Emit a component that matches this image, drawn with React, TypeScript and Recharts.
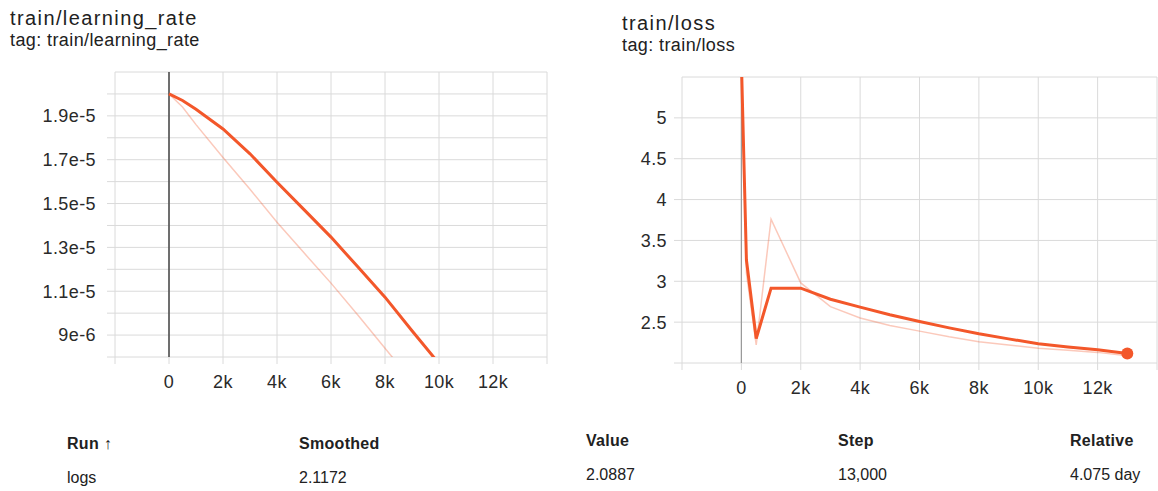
import React from 'react';
import {
  LineChart, Line, XAxis, YAxis, CartesianGrid, ReferenceLine, ReferenceDot,
} from 'recharts';

// x axis (shared by both panels)
const STEP_TICKS = [-2000, 0, 2000, 4000, 6000, 8000, 10000, 12000, 14000];
const STEP_LABELS = ['', '0', '2k', '4k', '6k', '8k', '10k', '12k', ''];

// train/learning_rate
const LR_STEPS = [0, 500, 1000, 2000, 3000, 4000, 5000, 6000, 7000, 8000, 9000, 10000, 11000, 12000, 13000];
const LR_RAW = [2.0e-5, 1.94e-5, 1.86e-5, 1.71e-5, 1.565e-5, 1.415e-5, 1.275e-5, 1.137e-5, 9.9e-6, 8.4e-6, 6.9e-6, 5.5e-6, 4.0e-6, 2.6e-6, 1.1e-6];
const LR_SMOOTHED = [2.0e-5, 1.97e-5, 1.93e-5, 1.84e-5, 1.727e-5, 1.597e-5, 1.472e-5, 1.347e-5, 1.21e-5, 1.073e-5, 9.2e-6, 7.7e-6, 6.3e-6, 4.9e-6, 3.5e-6];
const LR_Y_TICKS = [8e-6, 9e-6, 1.0e-5, 1.1e-5, 1.2e-5, 1.3e-5, 1.4e-5, 1.5e-5, 1.6e-5, 1.7e-5, 1.8e-5, 1.9e-5, 2.0e-5];
const LR_Y_LABELS = ['', '9e-6', '', '1.1e-5', '', '1.3e-5', '', '1.5e-5', '', '1.7e-5', '', '1.9e-5', ''];

// train/loss
const LOSS_STEPS = [0, 170, 500, 1000, 2000, 3000, 4000, 5000, 6000, 7000, 8000, 9000, 10000, 11000, 12000, 13000];
const LOSS_RAW = [5.7, 3.1, 2.22, 3.76, 2.98, 2.69, 2.55, 2.46, 2.39, 2.32, 2.26, 2.22, 2.18, 2.155, 2.13, 2.0887];
const LOSS_SMOOTHED = [5.7, 3.26, 2.3, 2.916, 2.916, 2.78, 2.684, 2.59, 2.508, 2.43, 2.358, 2.295, 2.236, 2.195, 2.162, 2.1172];
const LOSS_Y_TICKS = [2, 2.5, 3, 3.5, 4, 4.5, 5];
const LOSS_Y_LABELS = ['', '2.5', '3', '3.5', '4', '4.5', '5'];

// summary table
const TABLE_HEADERS = ['Run ↑', 'Smoothed', 'Value', 'Step', 'Relative'];
const TABLE_ROW = ['logs', '2.1172', '2.0887', '13,000', '4.075 day'];

const FONT = '"Liberation Sans", Arial, sans-serif';
const ORANGE = '#f3572a';
const GRID = '#dadada';
const tickStyle = { fill: '#2a2a2a', fontSize: 18, fontFamily: FONT, letterSpacing: 0.4 };

const lrData = LR_STEPS.map((step, i) => ({ step, raw: LR_RAW[i], smoothed: LR_SMOOTHED[i] }));
const lossData = LOSS_STEPS.map((step, i) => ({ step, raw: LOSS_RAW[i], smoothed: LOSS_SMOOTHED[i] }));

function Title({ x, y, name }: { x: number; y: number; name: string }) {
  return (
    <>
      <div style={{ position: 'absolute', left: x, top: y, fontSize: 20, lineHeight: '20px', letterSpacing: 1.4, color: '#212121', whiteSpace: 'nowrap' }}>
        {name}
      </div>
      <div style={{ position: 'absolute', left: x, top: y + 23, fontSize: 18, lineHeight: '18px', letterSpacing: 0.4, color: '#212121', whiteSpace: 'nowrap' }}>
        tag: {name}
      </div>
    </>
  );
}

export default function App() {
  const cols = [67, 299, 586, 838, 1070];
  const colShift = [0, 0, -3, -3, -3];
  return (
    <div style={{ position: 'absolute', left: 0, top: 0, width: 1158, height: 491, background: '#fff', fontFamily: FONT, overflow: 'hidden' }}>
      <Title x={10} y={8} name="train/learning_rate" />
      <Title x={622} y={13} name="train/loss" />

      <div style={{ position: 'absolute', left: 0, top: 0 }}>
        <LineChart width={580} height={410} data={lrData} margin={{ top: 72, right: 33, bottom: 23, left: 0 }}>
          <CartesianGrid stroke={GRID} />
          <XAxis
            dataKey="step" type="number" domain={[-2000, 14000]} ticks={STEP_TICKS} interval={0}
            axisLine={false} tickLine={{ stroke: GRID }} tickSize={7} tickMargin={11} height={30}
            tickFormatter={(_v: number, i: number) => STEP_LABELS[i]} tick={tickStyle}
          />
          <YAxis
            type="number" domain={[8e-6, 2.1e-5]} allowDataOverflow ticks={LR_Y_TICKS} interval={0}
            axisLine={false} tickLine={{ stroke: GRID }} tickSize={8} tickMargin={11} width={115}
            tickFormatter={(_v: number, i: number) => LR_Y_LABELS[i]} tick={tickStyle}
          />
          <ReferenceLine x={0} stroke="#444" strokeWidth={1.5} />
          <Line type="linear" dataKey="raw" stroke={ORANGE} strokeOpacity={0.32} strokeWidth={1.5} dot={false} isAnimationActive={false} />
          <Line type="linear" dataKey="smoothed" stroke={ORANGE} strokeWidth={3} dot={false} isAnimationActive={false} />
        </LineChart>
      </div>

      <div style={{ position: 'absolute', left: 580, top: 0 }}>
        <LineChart width={578} height={420} data={lossData} margin={{ top: 77, right: 1, bottom: 27, left: 0 }}>
          <CartesianGrid stroke={GRID} />
          <XAxis
            dataKey="step" type="number" domain={[-2000, 14000]} ticks={STEP_TICKS} interval={0}
            axisLine={false} tickLine={{ stroke: GRID }} tickSize={7} tickMargin={11} height={30}
            tickFormatter={(_v: number, i: number) => STEP_LABELS[i]} tick={tickStyle}
          />
          <YAxis
            type="number" domain={[2, 5.5]} allowDataOverflow ticks={LOSS_Y_TICKS} interval={0}
            axisLine={false} tickLine={{ stroke: GRID }} tickSize={8} tickMargin={7} width={102}
            tickFormatter={(_v: number, i: number) => LOSS_Y_LABELS[i]} tick={tickStyle}
          />
          <ReferenceLine x={0} stroke="#999" strokeWidth={1.2} />
          <Line type="linear" dataKey="raw" stroke={ORANGE} strokeOpacity={0.32} strokeWidth={1.5} dot={false} isAnimationActive={false} />
          <Line type="linear" dataKey="smoothed" stroke={ORANGE} strokeWidth={3} dot={false} isAnimationActive={false} />
          <ReferenceDot
            x={LOSS_STEPS[LOSS_STEPS.length - 1]} y={LOSS_SMOOTHED[LOSS_SMOOTHED.length - 1]}
            r={6} fill={ORANGE} stroke="none"
          />
        </LineChart>
      </div>

      {TABLE_HEADERS.map((h, i) => (
        <div key={h} style={{ position: 'absolute', left: cols[i], top: 436 + colShift[i], fontSize: 16, lineHeight: '16px', fontWeight: 700, letterSpacing: 0.3, color: '#212121', whiteSpace: 'nowrap' }}>
          {h}
        </div>
      ))}
      {TABLE_ROW.map((c, i) => (
        <div key={c} style={{ position: 'absolute', left: cols[i], top: 470 + colShift[i], fontSize: 16, lineHeight: '16px', color: '#212121', whiteSpace: 'nowrap' }}>
          {c}
        </div>
      ))}
    </div>
  );
}
